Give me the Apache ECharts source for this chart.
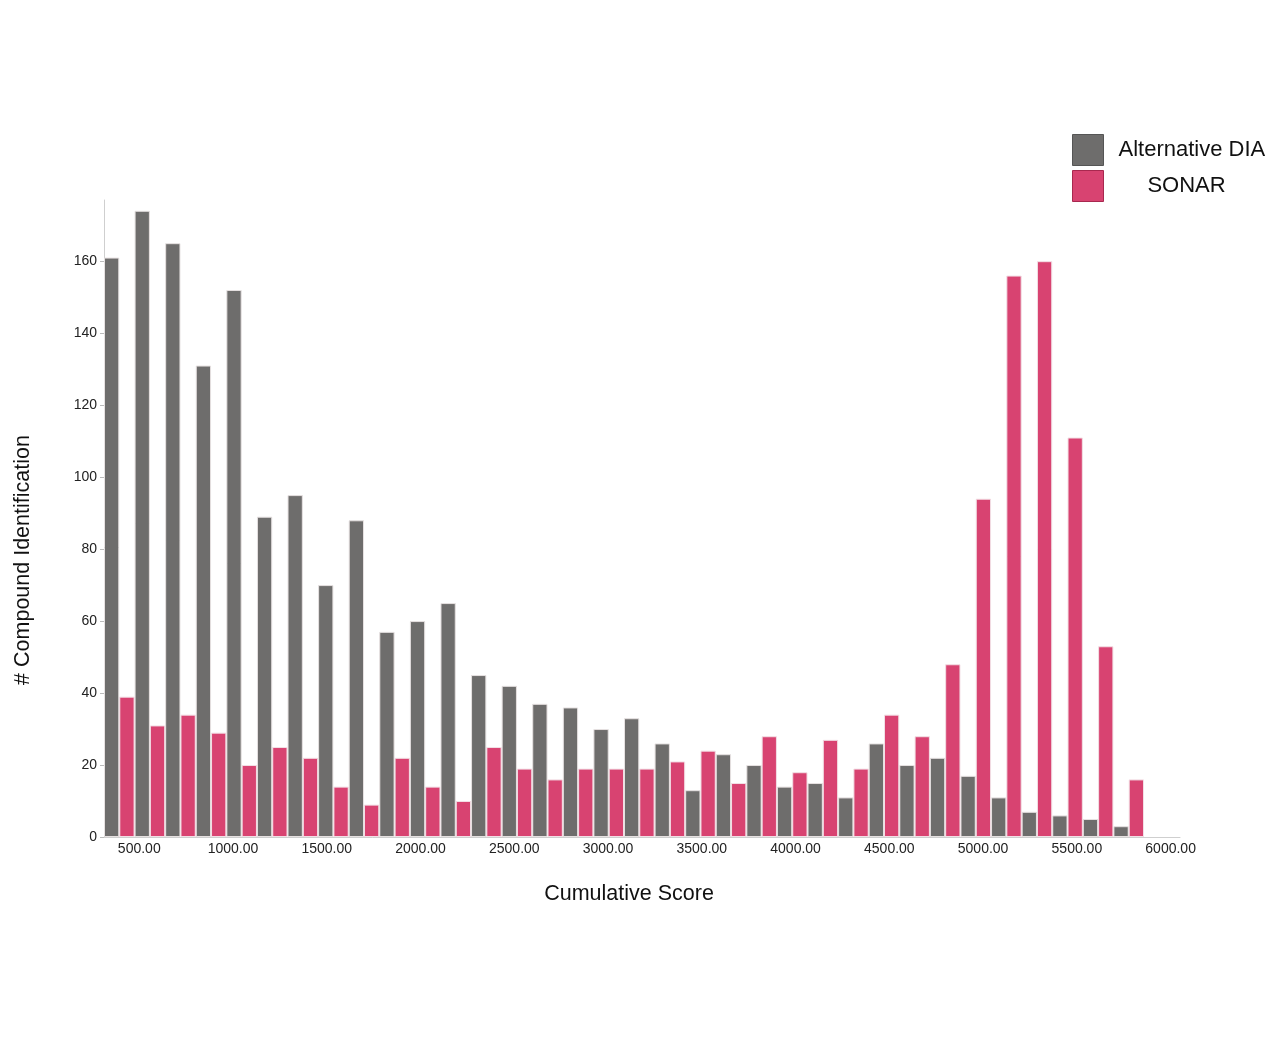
<!DOCTYPE html>
<html>
<head>
<meta charset="utf-8">
<title>Cumulative Score histogram</title>
<script src="https://cdn.jsdelivr.net/npm/echarts@6/dist/echarts.min.js"></script>
<style>
    html, body { margin: 0; padding: 0; background: #fff; }
    #main { width: 1280px; height: 1043px; }
</style>
</head>
<body>
<div id="main"></div>
<script>
// histogram bins (34 of them), counts
const bins = ['1', '2', '3', '4', '5', '6', '7', '8', '9', '10', '11', '12',
    '13', '14', '15', '16', '17', '18', '19', '20', '21', '22', '23', '24',
    '25', '26', '27', '28', '29', '30', '31', '32', '33', '34'];
const altDia = [161, 174, 165, 131, 152, 89, 95, 70, 88, 57, 60, 65,
    45, 42, 37, 36, 30, 33, 26, 13, 23, 20, 14, 15,
    11, 26, 20, 22, 17, 11, 7, 6, 5, 3];
const sonar = [39, 31, 34, 29, 20, 25, 22, 14, 9, 22, 14, 10,
    25, 19, 16, 19, 19, 19, 21, 24, 15, 28, 18, 27,
    19, 34, 28, 48, 94, 156, 160, 111, 53, 16];
const scoreTicks = [500, 1000, 1500, 2000, 2500, 3000, 3500, 4000, 4500, 5000, 5500, 6000];
const countTicks = [0, 20, 40, 60, 80, 100, 120, 140, 160];

const font = 'Arial, "Liberation Sans", sans-serif';
const grayColor = '#6e6d6c';
const pinkColor = '#d84371';

let option = {
    backgroundColor: '#fff',
    animation: false,
    textStyle: { fontFamily: font },
    legend: {
        orient: 'vertical',
        left: 1072,
        top: 134,
        padding: 0,
        itemWidth: 31,
        itemHeight: 31,
        itemGap: 4,
        icon: 'rect',
        data: [
            { name: 'Alternative DIA', itemStyle: { borderColor: '#555', borderWidth: 1 } },
            { name: 'SONAR', itemStyle: { borderColor: '#a8284f', borderWidth: 1 } }
        ],
        formatter: function (name) {
            return name === 'SONAR' ? '{c|' + name + '}' : '{l|' + name + '}';
        },
        textStyle: {
            color: '#111',
            fontSize: 22,
            fontFamily: font,
            padding: [0, 0, 0, 10],
            rich: {
                l: { width: 146, align: 'left', fontSize: 22, fontFamily: font, color: '#111' },
                c: { width: 136, align: 'center', fontSize: 22, fontFamily: font, color: '#111' }
            }
        }
    },
    grid: [
        // bars
        { left: 104, right: 136, top: 200, bottom: 206, containLabel: false, outerBoundsMode: 'none' },
        // score axis, runs a bit past the last bin
        { left: 104, right: 100, top: 200, bottom: 206, containLabel: false, outerBoundsMode: 'none' }
    ],
    xAxis: [
        {
            type: 'category',
            gridIndex: 0,
            data: bins,
            axisLine: { show: false },
            axisTick: { show: false },
            axisLabel: { show: false }
        },
        {
            type: 'value',
            gridIndex: 1,
            min: 312,
            max: 6050,
            splitLine: { show: false },
            axisLine: { show: true, lineStyle: { color: '#cfcfcf', width: 1 } },
            axisTick: { show: false },
            axisLabel: {
                customValues: scoreTicks,
                formatter: v => v.toFixed(2),
                color: '#222',
                fontSize: 14,
                margin: 5,
                fontFamily: font
            },
            name: 'Cumulative Score',
            nameLocation: 'middle',
            nameGap: 46,
            nameTextStyle: { color: '#111', fontSize: 21.5, fontFamily: font, padding: [0, 26, 0, 0] }
        }
    ],
    yAxis: [
        {
            type: 'value',
            gridIndex: 0,
            min: 0,
            max: 177,
            splitLine: { show: false },
            axisLine: { show: true, lineStyle: { color: '#cfcfcf', width: 1 } },
            axisTick: { show: true, customValues: countTicks, length: 4, lineStyle: { color: '#bbb' } },
            axisLabel: {
                customValues: countTicks,
                color: '#222',
                fontSize: 14,
                margin: 7,
                fontFamily: font
            },
            name: '# Compound Identification',
            nameLocation: 'middle',
            nameGap: 70,
            nameTextStyle: { color: '#111', fontSize: 21.5, fontFamily: font, padding: [0, 83, 0, 0] }
        },
        {
            type: 'value',
            gridIndex: 1,
            min: 0,
            max: 1,
            show: false
        }
    ],
    series: [
        {
            name: 'Alternative DIA',
            type: 'bar',
            xAxisIndex: 0,
            yAxisIndex: 0,
            data: altDia,
            barGap: '0%',
            barCategoryGap: '0%',
            itemStyle: { color: grayColor, borderColor: '#e6e1e1', borderWidth: 1 }
        },
        {
            name: 'SONAR',
            type: 'bar',
            xAxisIndex: 0,
            yAxisIndex: 0,
            data: sonar,
            barGap: '0%',
            barCategoryGap: '0%',
            itemStyle: { color: pinkColor, borderColor: '#f2dfe5', borderWidth: 1 }
        }
    ]
};

var myChart = echarts.init(document.getElementById('main'));
myChart.setOption(option);
</script>
</body>
</html>
